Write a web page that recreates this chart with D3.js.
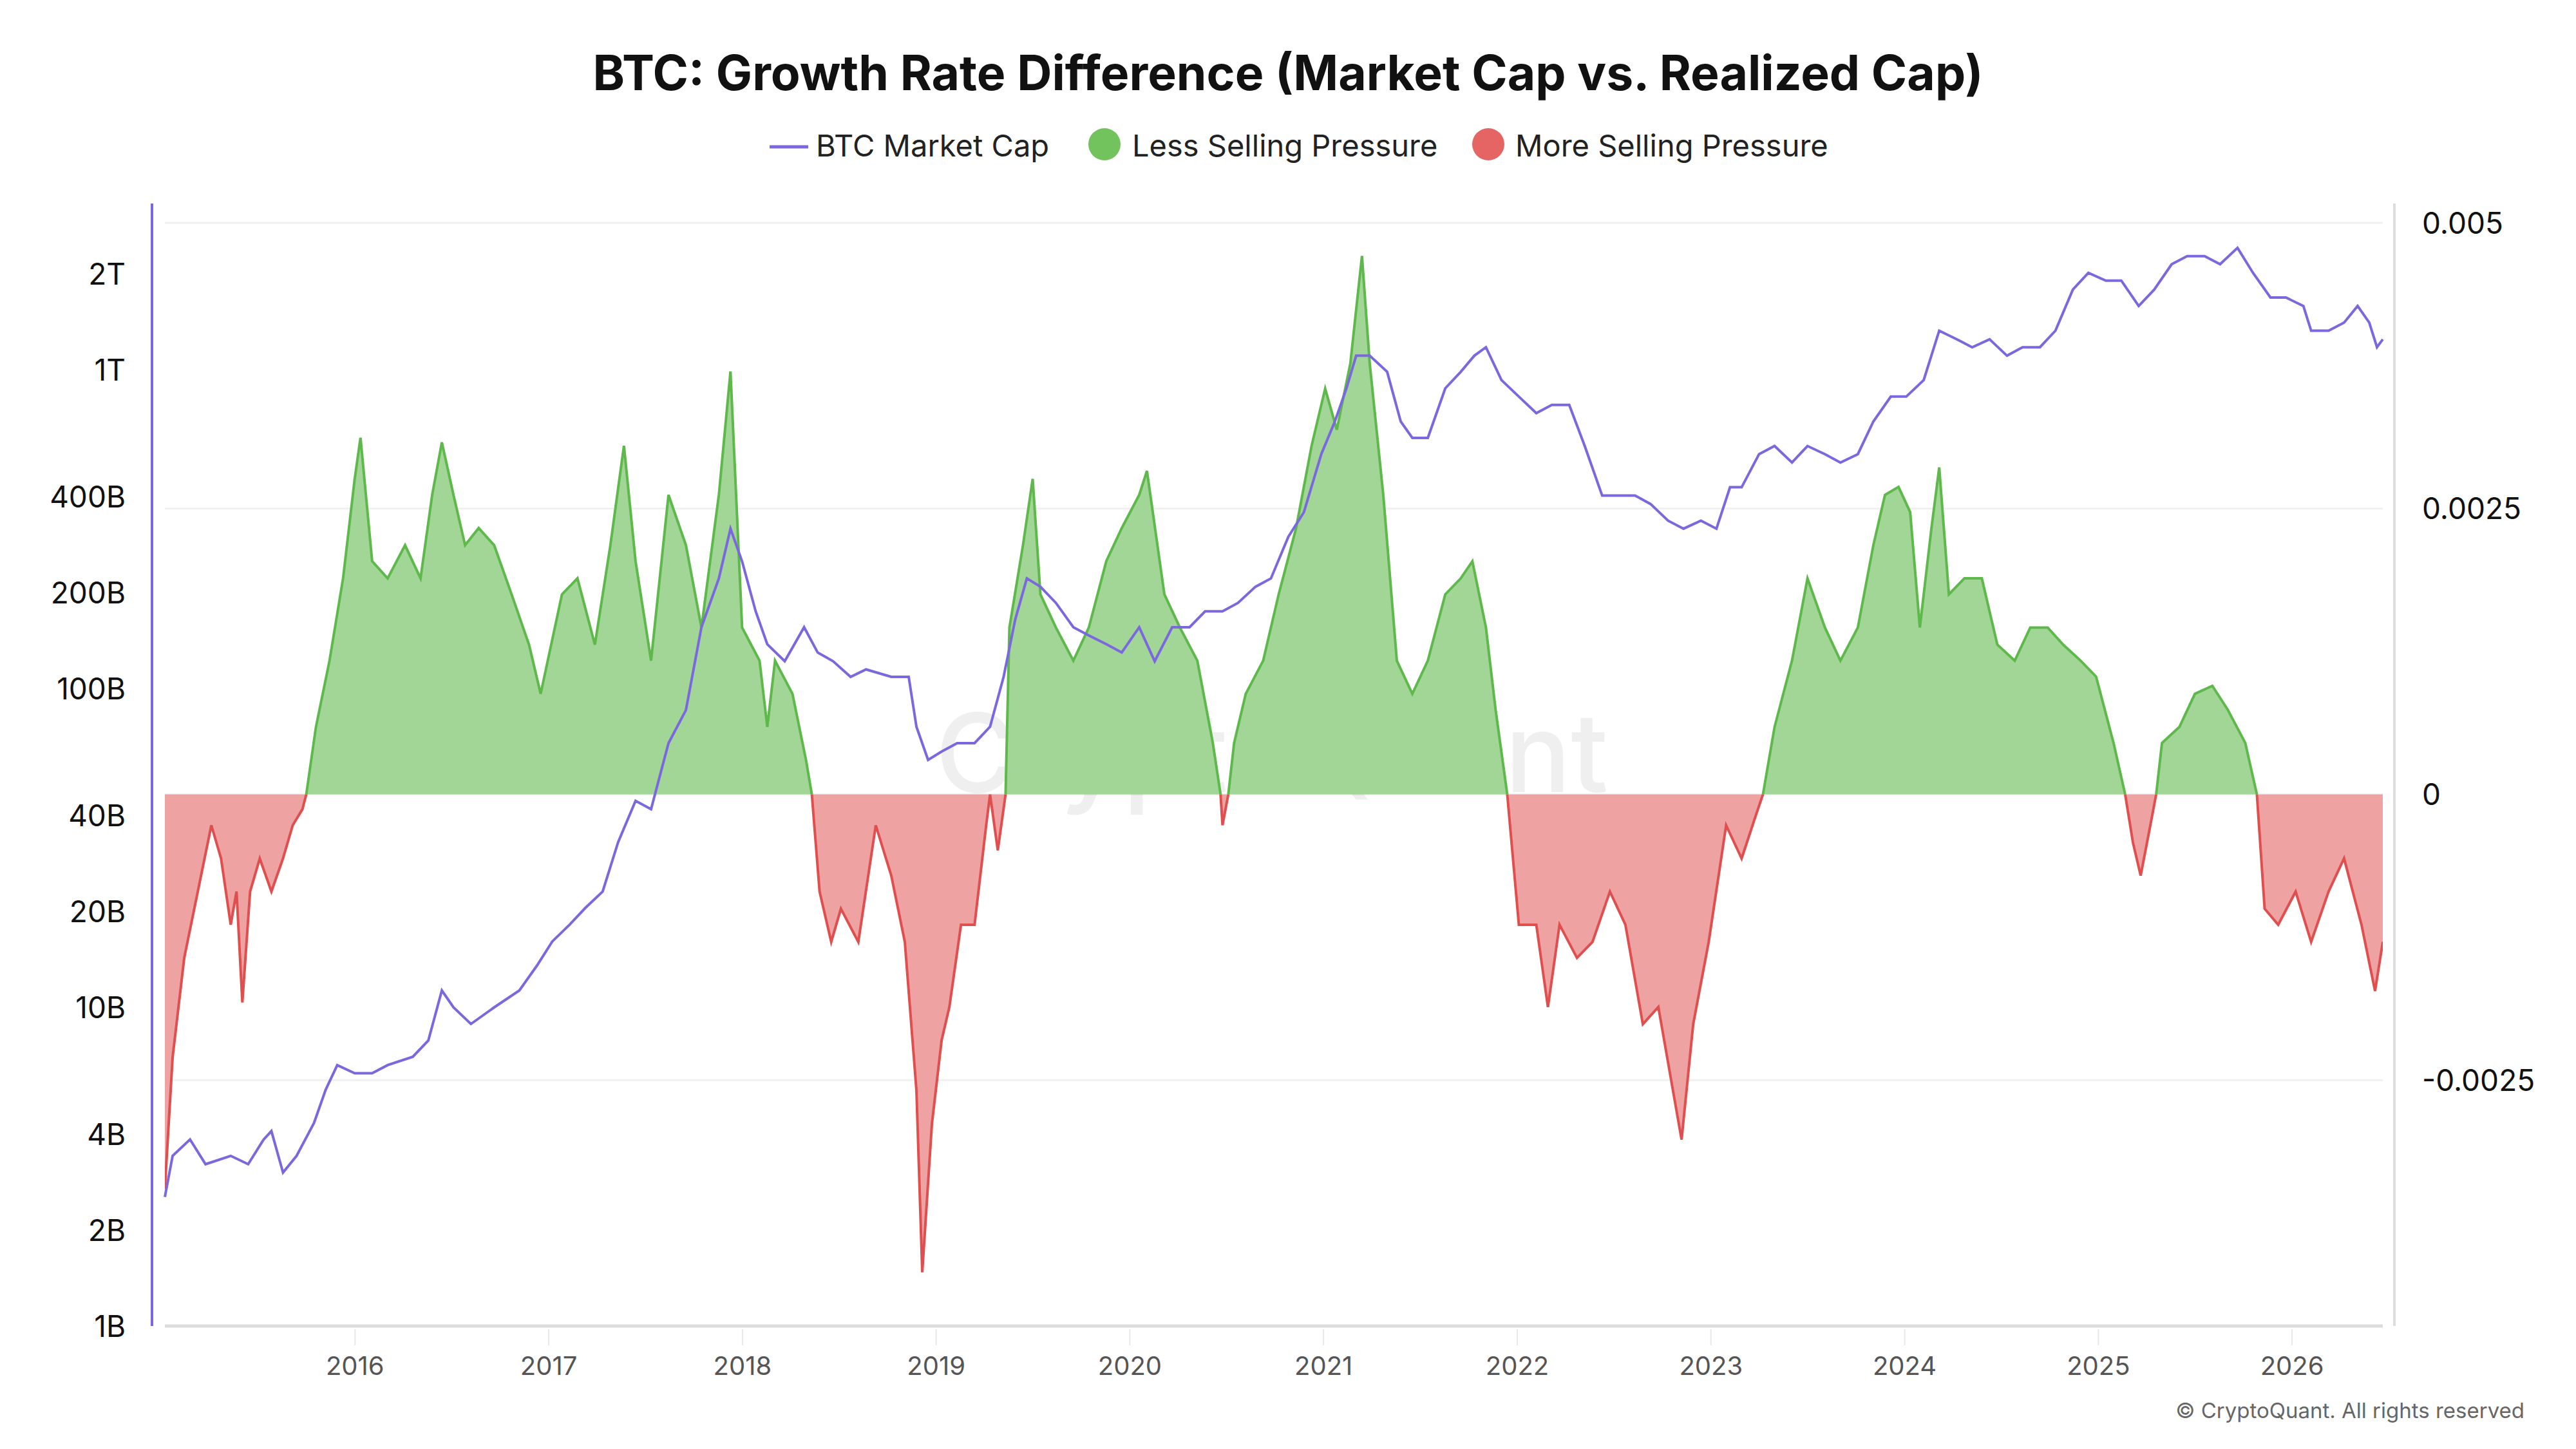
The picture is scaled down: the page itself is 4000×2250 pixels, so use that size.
<!DOCTYPE html>
<html><head><meta charset="utf-8">
<script src="https://cdn.jsdelivr.net/npm/d3@7"></script>
<style>body{margin:0;background:#fff;font-family:Inter,"Noto Sans",sans-serif}</style>
</head><body><svg id="c" width="4000" height="2250"></svg>
<script>
const diffYears=[2015.02,2015.06,2015.12,2015.19,2015.26,2015.31,2015.36,2015.39,2015.42,2015.46,2015.51,2015.57,2015.63,2015.68,2015.73,2015.75,2015.80,2015.87,2015.94,2016.00,2016.03,2016.09,2016.17,2016.26,2016.34,2016.40,2016.45,2016.51,2016.57,2016.64,2016.72,2016.81,2016.90,2016.96,2017.07,2017.15,2017.24,2017.32,2017.39,2017.45,2017.53,2017.62,2017.71,2017.79,2017.88,2017.94,2018.00,2018.09,2018.13,2018.17,2018.26,2018.33,2018.36,2018.40,2018.46,2018.51,2018.60,2018.69,2018.77,2018.84,2018.90,2018.93,2018.98,2019.03,2019.07,2019.13,2019.20,2019.26,2019.28,2019.32,2019.36,2019.38,2019.45,2019.50,2019.54,2019.62,2019.71,2019.79,2019.88,2019.96,2020.05,2020.09,2020.18,2020.26,2020.35,2020.43,2020.47,2020.48,2020.51,2020.54,2020.60,2020.69,2020.77,2020.86,2020.94,2021.01,2021.07,2021.14,2021.20,2021.24,2021.31,2021.38,2021.46,2021.54,2021.63,2021.71,2021.77,2021.84,2021.89,2021.95,2022.01,2022.10,2022.16,2022.22,2022.31,2022.39,2022.48,2022.56,2022.65,2022.73,2022.79,2022.85,2022.91,2022.99,2023.08,2023.16,2023.23,2023.27,2023.33,2023.42,2023.50,2023.59,2023.67,2023.76,2023.84,2023.90,2023.97,2024.03,2024.08,2024.14,2024.18,2024.23,2024.31,2024.40,2024.48,2024.57,2024.65,2024.74,2024.82,2024.91,2024.99,2025.08,2025.14,2025.18,2025.22,2025.27,2025.30,2025.33,2025.42,2025.50,2025.59,2025.67,2025.76,2025.82,2025.86,2025.93,2026.02,2026.10,2026.19,2026.27,2026.36,2026.43,2026.47];
const diffValues=[-0.00345,-0.00230,-0.00143,-0.00085,-0.00027,-0.00056,-0.00114,-0.00085,-0.00182,-0.00085,-0.00056,-0.00085,-0.00056,-0.00027,-0.00013,0,0.00059,0.00117,0.00189,0.00276,0.00312,0.00204,0.00189,0.00218,0.00189,0.00262,0.00308,0.00262,0.00218,0.00233,0.00218,0.00175,0.00131,0.00088,0.00175,0.00189,0.00131,0.00218,0.00305,0.00204,0.00117,0.00262,0.00218,0.00146,0.00262,0.00370,0.00146,0.00117,0.00059,0.00117,0.00088,0.00030,0,-0.00085,-0.00129,-0.00100,-0.00129,-0.00027,-0.00071,-0.00129,-0.00259,-0.00418,-0.00288,-0.00215,-0.00186,-0.00114,-0.00114,-0.00027,0,-0.00049,0,0.00146,0.00218,0.00276,0.00175,0.00146,0.00117,0.00146,0.00204,0.00233,0.00262,0.00283,0.00175,0.00146,0.00117,0.00045,0,-0.00027,0,0.00045,0.00088,0.00117,0.00175,0.00233,0.00305,0.00355,0.00319,0.00377,0.00471,0.00377,0.00262,0.00117,0.00088,0.00117,0.00175,0.00189,0.00204,0.00146,0.00074,0,-0.00114,-0.00114,-0.00186,-0.00114,-0.00143,-0.00129,-0.00085,-0.00114,-0.00201,-0.00186,-0.00244,-0.00302,-0.00201,-0.00129,-0.00027,-0.00056,-0.00020,0,0.00059,0.00117,0.00189,0.00146,0.00117,0.00146,0.00218,0.00262,0.00269,0.00247,0.00146,0.00233,0.00286,0.00175,0.00189,0.00189,0.00131,0.00117,0.00146,0.00146,0.00131,0.00117,0.00103,0.00045,0,-0.00042,-0.00071,-0.00027,0,0.00045,0.00059,0.00088,0.00095,0.00074,0.00045,0,-0.00100,-0.00114,-0.00085,-0.00129,-0.00085,-0.00056,-0.00114,-0.00172,-0.00129];
const capYears=[2015.02,2015.06,2015.15,2015.23,2015.36,2015.45,2015.53,2015.57,2015.63,2015.70,2015.79,2015.85,2015.91,2016.00,2016.09,2016.17,2016.30,2016.38,2016.45,2016.51,2016.60,2016.72,2016.85,2016.94,2017.02,2017.11,2017.19,2017.28,2017.36,2017.45,2017.53,2017.62,2017.71,2017.79,2017.88,2017.94,2018.00,2018.07,2018.13,2018.22,2018.32,2018.39,2018.47,2018.56,2018.64,2018.77,2018.86,2018.90,2018.96,2019.03,2019.11,2019.20,2019.28,2019.35,2019.41,2019.47,2019.54,2019.62,2019.71,2019.79,2019.88,2019.96,2020.05,2020.13,2020.22,2020.31,2020.39,2020.48,2020.56,2020.65,2020.73,2020.82,2020.90,2020.99,2021.06,2021.12,2021.17,2021.24,2021.33,2021.40,2021.46,2021.54,2021.63,2021.71,2021.78,2021.84,2021.92,2022.01,2022.10,2022.18,2022.27,2022.35,2022.44,2022.52,2022.61,2022.69,2022.78,2022.86,2022.95,2023.03,2023.10,2023.16,2023.25,2023.33,2023.42,2023.50,2023.59,2023.67,2023.76,2023.84,2023.93,2024.01,2024.10,2024.18,2024.27,2024.35,2024.44,2024.53,2024.61,2024.70,2024.78,2024.87,2024.95,2025.04,2025.12,2025.21,2025.29,2025.38,2025.46,2025.55,2025.63,2025.72,2025.80,2025.89,2025.97,2026.06,2026.10,2026.19,2026.27,2026.34,2026.40,2026.44,2026.47];
const capBillions=[2.54,3.42,3.85,3.22,3.42,3.22,3.85,4.09,3.03,3.42,4.34,5.51,6.59,6.21,6.21,6.59,7.0,7.87,11.3,10,8.87,10,11.3,13.5,16.1,18.2,20.5,23.1,33,44.5,41.9,67.5,85.7,156,222,318,251,175,138,122,156,130,122,109,115,109,109,76,59.8,63.5,67.5,67.5,76,109,165,222,209,186,156,147,138,130,156,122,156,156,175,175,186,209,222,300,358,545,690,877,1110,1110,988,690,613,613,877,988,1110,1180,931,826,733,778,778,578,404,404,404,380,337,318,337,318,429,429,545,578,513,578,545,513,545,690,826,826,931,1330,1250,1180,1250,1110,1180,1180,1330,1790,2020,1910,1910,1590,1790,2150,2280,2280,2150,2420,2020,1690,1690,1590,1330,1330,1410,1590,1410,1180,1250];
const leftTicks=[1,2,4,10,20,40,100,200,400,1000,2000];
const leftTickLabels=["1B","2B","4B","10B","20B","40B","100B","200B","400B","1T","2T"];
const rightTicks=[0.005,0.0025,0,-0.0025];
const rightTickLabels=["0.005","0.0025","0","-0.0025"];
const yearTicks=[2016,2017,2018,2019,2020,2021,2022,2023,2024,2025,2026];

const svg=d3.select("#c");
const L=256,R=3700,T=346,B=2059;
const x=d3.scaleLinear().domain([2015.02,2026.47]).range([L,R]);
const yL=d3.scaleLog().domain([1,2900]).range([B,T]);
const yR=d3.scaleLinear().domain([-0.00465,0.005]).range([B,T]);

svg.append("text").attr("x",2000).attr("y",140).attr("text-anchor","middle").attr("font-size",75).attr("font-weight",700).attr("fill","#111").text("BTC: Growth Rate Difference (Market Cap vs. Realized Cap)");
const lg=svg.append("g").attr("font-size",47).attr("fill","#222");
lg.append("line").attr("x1",1195).attr("x2",1255).attr("y1",228).attr("y2",228).attr("stroke","#7b68de").attr("stroke-width",5);
lg.append("text").attr("x",1267).attr("y",243).text("BTC Market Cap");
lg.append("circle").attr("cx",1715).attr("cy",224).attr("r",25).attr("fill","#72c25e");
lg.append("text").attr("x",1758).attr("y",243).text("Less Selling Pressure");
lg.append("circle").attr("cx",2311).attr("cy",224).attr("r",25).attr("fill","#e56464");
lg.append("text").attr("x",2353).attr("y",243).text("More Selling Pressure");

svg.append("g").selectAll("line").data(rightTicks).join("line").attr("x1",L).attr("x2",R).attr("y1",d=>yR(d)).attr("y2",d=>yR(d)).attr("stroke","#f0f0f0").attr("stroke-width",3);

svg.append("text").attr("x",1975).attr("y",1230).attr("text-anchor","middle").attr("font-size",170).attr("font-weight",500).attr("fill","#000").attr("opacity",0.06).text("CryptoQuant");

const pts=diffYears.map((d,i)=>[d,diffValues[i]]);
const defs=svg.append("defs");
defs.append("clipPath").attr("id","pos").append("rect").attr("x",L).attr("y",T-100).attr("width",R-L).attr("height",yR(0)-T+100);
defs.append("clipPath").attr("id","neg").append("rect").attr("x",L).attr("y",yR(0)).attr("width",R-L).attr("height",B-yR(0)+100);
const area=d3.area().x(d=>x(d[0])).y0(yR(0)).y1(d=>yR(d[1]));
const line=d3.line().x(d=>x(d[0])).y(d=>yR(d[1]));
[["pos","#9dd491","#5fb84c"],["neg","#ee9d9d","#df4f4f"]].forEach(([id,f,s])=>{
  const g=svg.append("g").attr("clip-path",`url(#${id})`);
  g.append("path").datum(pts).attr("d",area).attr("fill",f).attr("opacity",0.95);
  g.append("path").datum(pts).attr("d",line).attr("fill","none").attr("stroke",s).attr("stroke-width",4);
});

const cap=capYears.map((d,i)=>[d,capBillions[i]]);
svg.append("path").datum(cap).attr("d",d3.line().x(d=>x(d[0])).y(d=>yL(d[1]))).attr("fill","none").attr("stroke","#7b68de").attr("stroke-width",4);

svg.append("line").attr("x1",236).attr("x2",236).attr("y1",316).attr("y2",2059).attr("stroke","#7b68de").attr("stroke-width",4);
svg.append("line").attr("x1",3718).attr("x2",3718).attr("y1",316).attr("y2",2059).attr("stroke","#ddd").attr("stroke-width",4);
svg.append("line").attr("x1",L).attr("x2",R).attr("y1",B).attr("y2",B).attr("stroke","#ddd").attr("stroke-width",5);
const la=svg.append("g").attr("transform",`translate(198,0)`).call(d3.axisLeft(yL).tickValues(leftTicks).tickFormat((d,i)=>leftTickLabels[i]).tickSize(0));
la.select(".domain").remove();
la.selectAll("text").attr("font-size",46).attr("fill","#111").attr("font-family","Inter,'Noto Sans',sans-serif").attr("dy","0.35em");
const ra=svg.append("g").attr("transform",`translate(3758,0)`).call(d3.axisRight(yR).tickValues(rightTicks).tickFormat((d,i)=>rightTickLabels[i]).tickSize(0));
ra.select(".domain").remove();
ra.selectAll("text").attr("font-size",46).attr("fill","#111").attr("font-family","Inter,'Noto Sans',sans-serif").attr("dy","0.35em");
const xa=svg.append("g").attr("transform",`translate(0,${B+5})`).call(d3.axisBottom(x).tickValues(yearTicks).tickFormat(d3.format("d")).tickSize(25).tickPadding(18));
xa.select(".domain").remove();
xa.selectAll("line").attr("stroke","#e8e8e8").attr("stroke-width",2);
xa.selectAll("text").attr("font-size",40).attr("fill","#555").attr("font-family","Inter,'Noto Sans',sans-serif");
svg.append("text").attr("x",3920).attr("y",2202).attr("text-anchor","end").attr("font-size",33).attr("fill","#666").text("© CryptoQuant. All rights reserved");
</script></body></html>
